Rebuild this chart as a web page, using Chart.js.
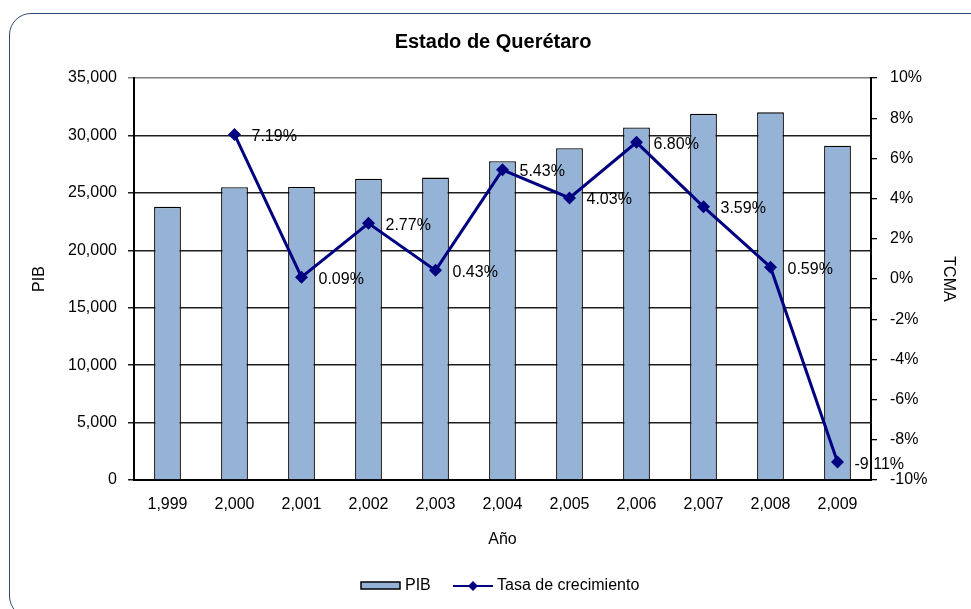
<!DOCTYPE html>
<html>
<head>
<meta charset="utf-8">
<script src="https://cdn.jsdelivr.net/npm/chart.js@4.4.0/dist/chart.umd.min.js"></script>
<style>
  body { margin: 0; background: #fff; }
  #wrap { position: relative; width: 971px; height: 609px; overflow: hidden; }
  #frame { position: absolute; left: 9px; top: 13px; width: 1000px; height: 603px;
           border: 1.5px solid #2f4a70; border-radius: 22px; }
  canvas { position: absolute; left: 0; top: 0; }
</style>
</head>
<body>
<div id="wrap">
  <div id="frame"></div>
  <canvas id="chart" width="971" height="609"></canvas>
</div>
<script>
// datos
const years = ['1,999', '2,000', '2,001', '2,002', '2,003', '2,004', '2,005', '2,006', '2,007', '2,008', '2,009'];
const pib = [23780, 25490, 25510, 26220, 26330, 27760, 28880, 30700, 31880, 32010, 29110];
const tasa = [null, 7.19, 0.09, 2.77, 0.43, 5.43, 4.03, 6.80, 3.59, 0.59, -9.11];

const barFill = '#95b3d7';
const lineColor = '#000080';
const font = 'Arial, "Liberation Sans", sans-serif';

// etiquetas de porcentaje junto a cada punto
const pctLabels = {
  id: 'pctLabels',
  afterDatasetsDraw(chart) {
    const ctx = chart.ctx;
    const meta = chart.getDatasetMeta(1);
    ctx.save();
    ctx.font = '16px ' + font;
    ctx.fillStyle = '#000';
    ctx.textBaseline = 'middle';
    ctx.textAlign = 'left';
    meta.data.forEach((pt, i) => {
      if (tasa[i] == null) return;
      ctx.fillText(tasa[i].toFixed(2) + '%', pt.x + 17, pt.y + 2);
    });
    ctx.restore();
  }
};

// leyenda dibujada a mano
const customLegend = {
  id: 'customLegend',
  afterDraw(chart) {
    const ctx = chart.ctx;
    const y = 586;
    ctx.save();
    ctx.fillStyle = barFill;
    ctx.fillRect(361, 582, 39, 7);
    ctx.strokeStyle = '#000';
    ctx.lineWidth = 1.5;
    ctx.strokeRect(361, 582, 39, 7);
    ctx.font = '16px ' + font;
    ctx.fillStyle = '#000';
    ctx.textBaseline = 'middle';
    ctx.fillText('PIB', 405, y);

    ctx.strokeStyle = lineColor;
    ctx.lineWidth = 2;
    ctx.beginPath();
    ctx.moveTo(453, y);
    ctx.lineTo(493, y);
    ctx.stroke();
    ctx.fillStyle = lineColor;
    ctx.beginPath();
    ctx.moveTo(473, y - 5);
    ctx.lineTo(478, y);
    ctx.lineTo(473, y + 5);
    ctx.lineTo(468, y);
    ctx.closePath();
    ctx.fill();
    ctx.fillStyle = '#000';
    ctx.fillText('Tasa de crecimiento', 497, y);
    ctx.restore();
  }
};

let ctx1 = document.getElementById('chart').getContext('2d');
let myChart = new Chart(ctx1, {
  type: 'bar',
  data: {
    labels: years,
    datasets: [{
      type: 'bar',
      label: 'PIB',
      data: pib,
      backgroundColor: barFill,
      borderColor: '#000',
      borderWidth: 1.3,
      categoryPercentage: 1,
      barPercentage: 0.4,
      yAxisID: 'y',
      order: 1
    }, {
      type: 'line',
      label: 'Tasa de crecimiento',
      data: tasa,
      borderColor: lineColor,
      backgroundColor: lineColor,
      borderWidth: 3,
      pointStyle: 'rectRot',
      pointRadius: 6.5,
      pointBorderWidth: 0,
      tension: 0,
      yAxisID: 'y1',
      order: 0
    }]
  },
  options: {
    responsive: false,
    animation: false,
    devicePixelRatio: 1,
    layout: { padding: { left: 25, right: 10, top: 11, bottom: 59 } },
    plugins: {
      legend: { display: false },
      tooltip: { enabled: false },
      title: {
        display: true,
        text: 'Estado de Querétaro',
        color: '#000',
        font: { family: font, size: 20, weight: 'bold' },
        padding: { top: 19, bottom: 24 }
      }
    },
    scales: {
      x: {
        grid: { display: true, drawOnChartArea: false, drawTicks: false },
        border: { display: true, color: '#000', width: 2 },
        ticks: { color: '#000', font: { family: font, size: 16 }, padding: 15.4, maxRotation: 0 },
        title: { display: true, text: 'Año', color: '#000', font: { family: font, size: 16 }, padding: { top: 0, bottom: 0.5 } },
        afterFit(scale) { scale.height = 70; }
      },
      y: {
        position: 'left',
        min: 0,
        max: 35000,
        ticks: {
          stepSize: 5000,
          color: '#000',
          font: { family: font, size: 16 },
          padding: 11,
          callback: v => v.toLocaleString('en-US')
        },
        grid: {
          color: c => (c.tick && c.tick.value === 35000) ? '#7f7f7f' : '#1e1e1e',
          lineWidth: 1.5,
          tickLength: 6
        },
        border: { display: true, color: '#000', width: 2 },
        title: { display: true, text: 'PIB', color: '#000', font: { family: font, size: 16 }, padding: { top: 5.4, bottom: 0 } },
        afterFit(scale) { scale.width = 109; }
      },
      y1: {
        position: 'right',
        min: -10,
        max: 10,
        z: 1,
        ticks: {
          stepSize: 2,
          color: '#000',
          font: { family: font, size: 16 },
          padding: 13,
          callback: v => v + '%'
        },
        grid: { drawOnChartArea: false, color: '#000', lineWidth: 1.3, tickLength: 6 },
        border: { display: true, color: '#000', width: 2 },
        title: { display: true, text: 'TCMA', color: '#000', font: { family: font, size: 16 }, padding: { top: 3.4, bottom: 0 } },
        afterFit(scale) { scale.width = 90; }
      }
    }
  },
  plugins: [pctLabels, customLegend]
});
</script>
</body>
</html>
